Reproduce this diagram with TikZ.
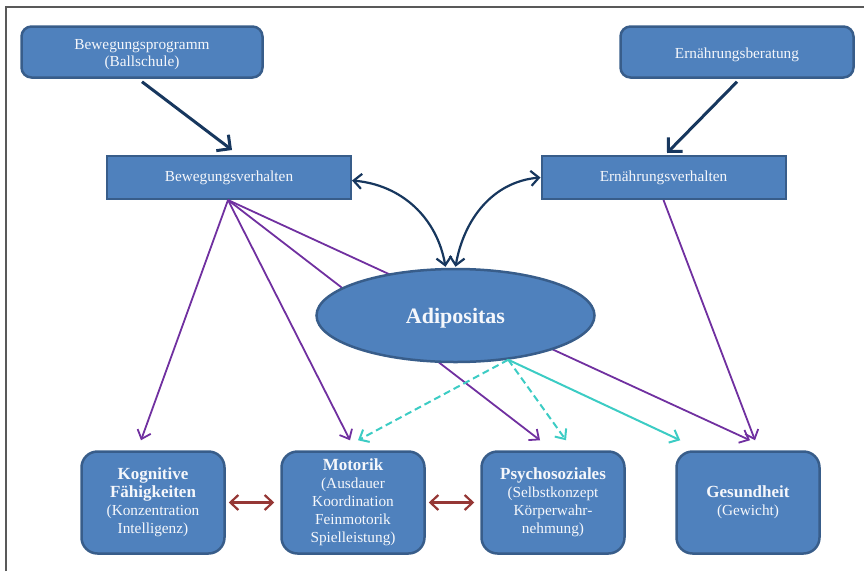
\documentclass[tikz,border=0pt]{standalone}
\usepackage{fontspec}
\setmainfont{Liberation Serif}
\usetikzlibrary{arrows.meta,shapes.geometric}
\definecolor{boxblue}{HTML}{4F81BD}
\definecolor{boxline}{HTML}{385D8A}
\definecolor{darknavy}{HTML}{17375E}
\definecolor{lila}{HTML}{7030A0}
\definecolor{tuerkis}{HTML}{3CCCC4}
\definecolor{dunkelrot}{HTML}{953735}
\newcommand{\titel}[1]{{\fontsize{17}{18}\selectfont\bfseries #1}}
\newcommand{\tiefer}[1]{\raisebox{0pt}[\dimexpr\height+6pt][\depth]{#1}}

\begin{document}
\begin{tikzpicture}[x=1pt, y=1pt,
    kasten/.style={draw=boxline, fill=boxblue, text=white!94!boxblue, align=center,
        inner sep=0pt, font=\fontsize{15.3}{18}\selectfont},
    oben/.style={kasten, line width=2.5pt, rounded corners=10pt, minimum height=51pt},
    verh/.style={kasten, line width=2pt, minimum width=244pt, minimum height=43pt},
    unten/.style={kasten, line width=2.5pt, rounded corners=16pt, minimum width=143pt, minimum height=102pt},
    navypfeil/.style={->, >={Straight Barb[length=10pt,width=20pt]}, darknavy, line width=3pt},
    bogen/.style={<->, >={Straight Barb[length=8pt,width=15pt]}, darknavy, line width=2.2pt},
    lilapfeil/.style={->, >={Straight Barb[length=8pt,width=14pt]}, lila, line width=1.8pt},
    tuerkispfeil/.style={->, >={Straight Barb[length=8pt,width=14pt]}, tuerkis, line width=2pt},
    rotpfeil/.style={<->, >={Straight Barb[length=8pt,width=15pt]}, dunkelrot, line width=2.2pt}]

    \useasboundingbox (0,0) rectangle (864,-571);

    % Rahmen
    \draw[black!65, line width=1.6pt] (6,-571) -- (6,-7) -- (864,-7);

    % Programme
    \node[oben, minimum width=241pt] (prog) at (142,-52) {\tiefer{\shortstack{Bewegungsprogramm\\(Ballschule)}}};
    \node[oben, minimum width=233pt] (berat) at (737,-52) {\tiefer{Ernährungsberatung}};

    % Verhalten
    \node[verh] (bewv) at (229,-177.5) {Bewegungsverhalten};
    \node[verh] (ernv) at (663.5,-177.5) {Ernährungsverhalten};

    % Bereiche unten
    \node[unten] (kogn) at (153,-502.5) {\titel{Kognitive}\\\titel{Fähigkeiten}\\(Konzentration\\Intelligenz)};
    \node[unten] (mot) at (353,-502.5) {\titel{Motorik}\\(Ausdauer\\Koordination\\Feinmotorik\\Spielleistung)};
    \node[unten] (psych) at (553,-502.5) {\titel{Psychosoziales}\\(Selbstkonzept\\Körperwahr-\\nehmung)};
    \node[unten] (ges) at (748,-502.5) {\titel{Gesundheit}\\(Gewicht)};

    % Pfeile von Bewegungsverhalten
    \draw[lilapfeil] ([xshift=-1pt]bewv.south) -- ([xshift=-12pt,yshift=10pt]kogn.north);
    \draw[lilapfeil] ([xshift=-1pt]bewv.south) -- ([xshift=-3pt,yshift=10pt]mot.north);
    \draw[lilapfeil] ([xshift=-1pt]bewv.south) -- ([xshift=-13pt,yshift=10pt]psych.north);
    \draw[lilapfeil] ([xshift=-1pt]bewv.south) -- ([xshift=2pt,yshift=10pt]ges.north);
    \draw[lilapfeil] (ernv.south) -- ([xshift=7pt,yshift=10pt]ges.north);

    % Adipositas
    \node[kasten, ellipse, line width=2.5pt, minimum width=278pt, minimum height=93pt,
        font=\fontsize{22}{26}\selectfont\bfseries] (adip) at (455.5,-315.5) {\tiefer{Adipositas}};

    % Pfeile oben
    \draw[navypfeil] ([yshift=-3pt]prog.south) -- ([xshift=3pt,yshift=5pt]bewv.north);
    \draw[navypfeil] ([yshift=-3pt]berat.south) -- ([xshift=3.5pt,yshift=2pt]ernv.north);

    % Wechselwirkungen
    \draw[bogen] ([yshift=-3pt]bewv.east) to[out=-5, in=100] ([xshift=-10pt,yshift=1pt]adip.north);
    \draw[bogen] (ernv.west) to[out=185, in=80] ([yshift=1pt]adip.north);

    % Pfeile von Adipositas
    \draw[tuerkispfeil, dash pattern=on 7pt off 4pt] (adip.-40) -- ([xshift=5pt,yshift=10pt]mot.north);
    \draw[tuerkispfeil, dash pattern=on 7pt off 4pt] (adip.-40) -- ([xshift=13pt,yshift=10pt]psych.north);
    \draw[tuerkispfeil] (adip.-40) -- ([xshift=5pt,yshift=10pt]ges.north west);

    % Doppelpfeile unten
    \draw[rotpfeil, shorten <=3pt, shorten >=6pt] (kogn.east) -- (mot.west);
    \draw[rotpfeil, shorten <=3pt, shorten >=6pt] (mot.east) -- (psych.west);

\end{tikzpicture}
\end{document}
